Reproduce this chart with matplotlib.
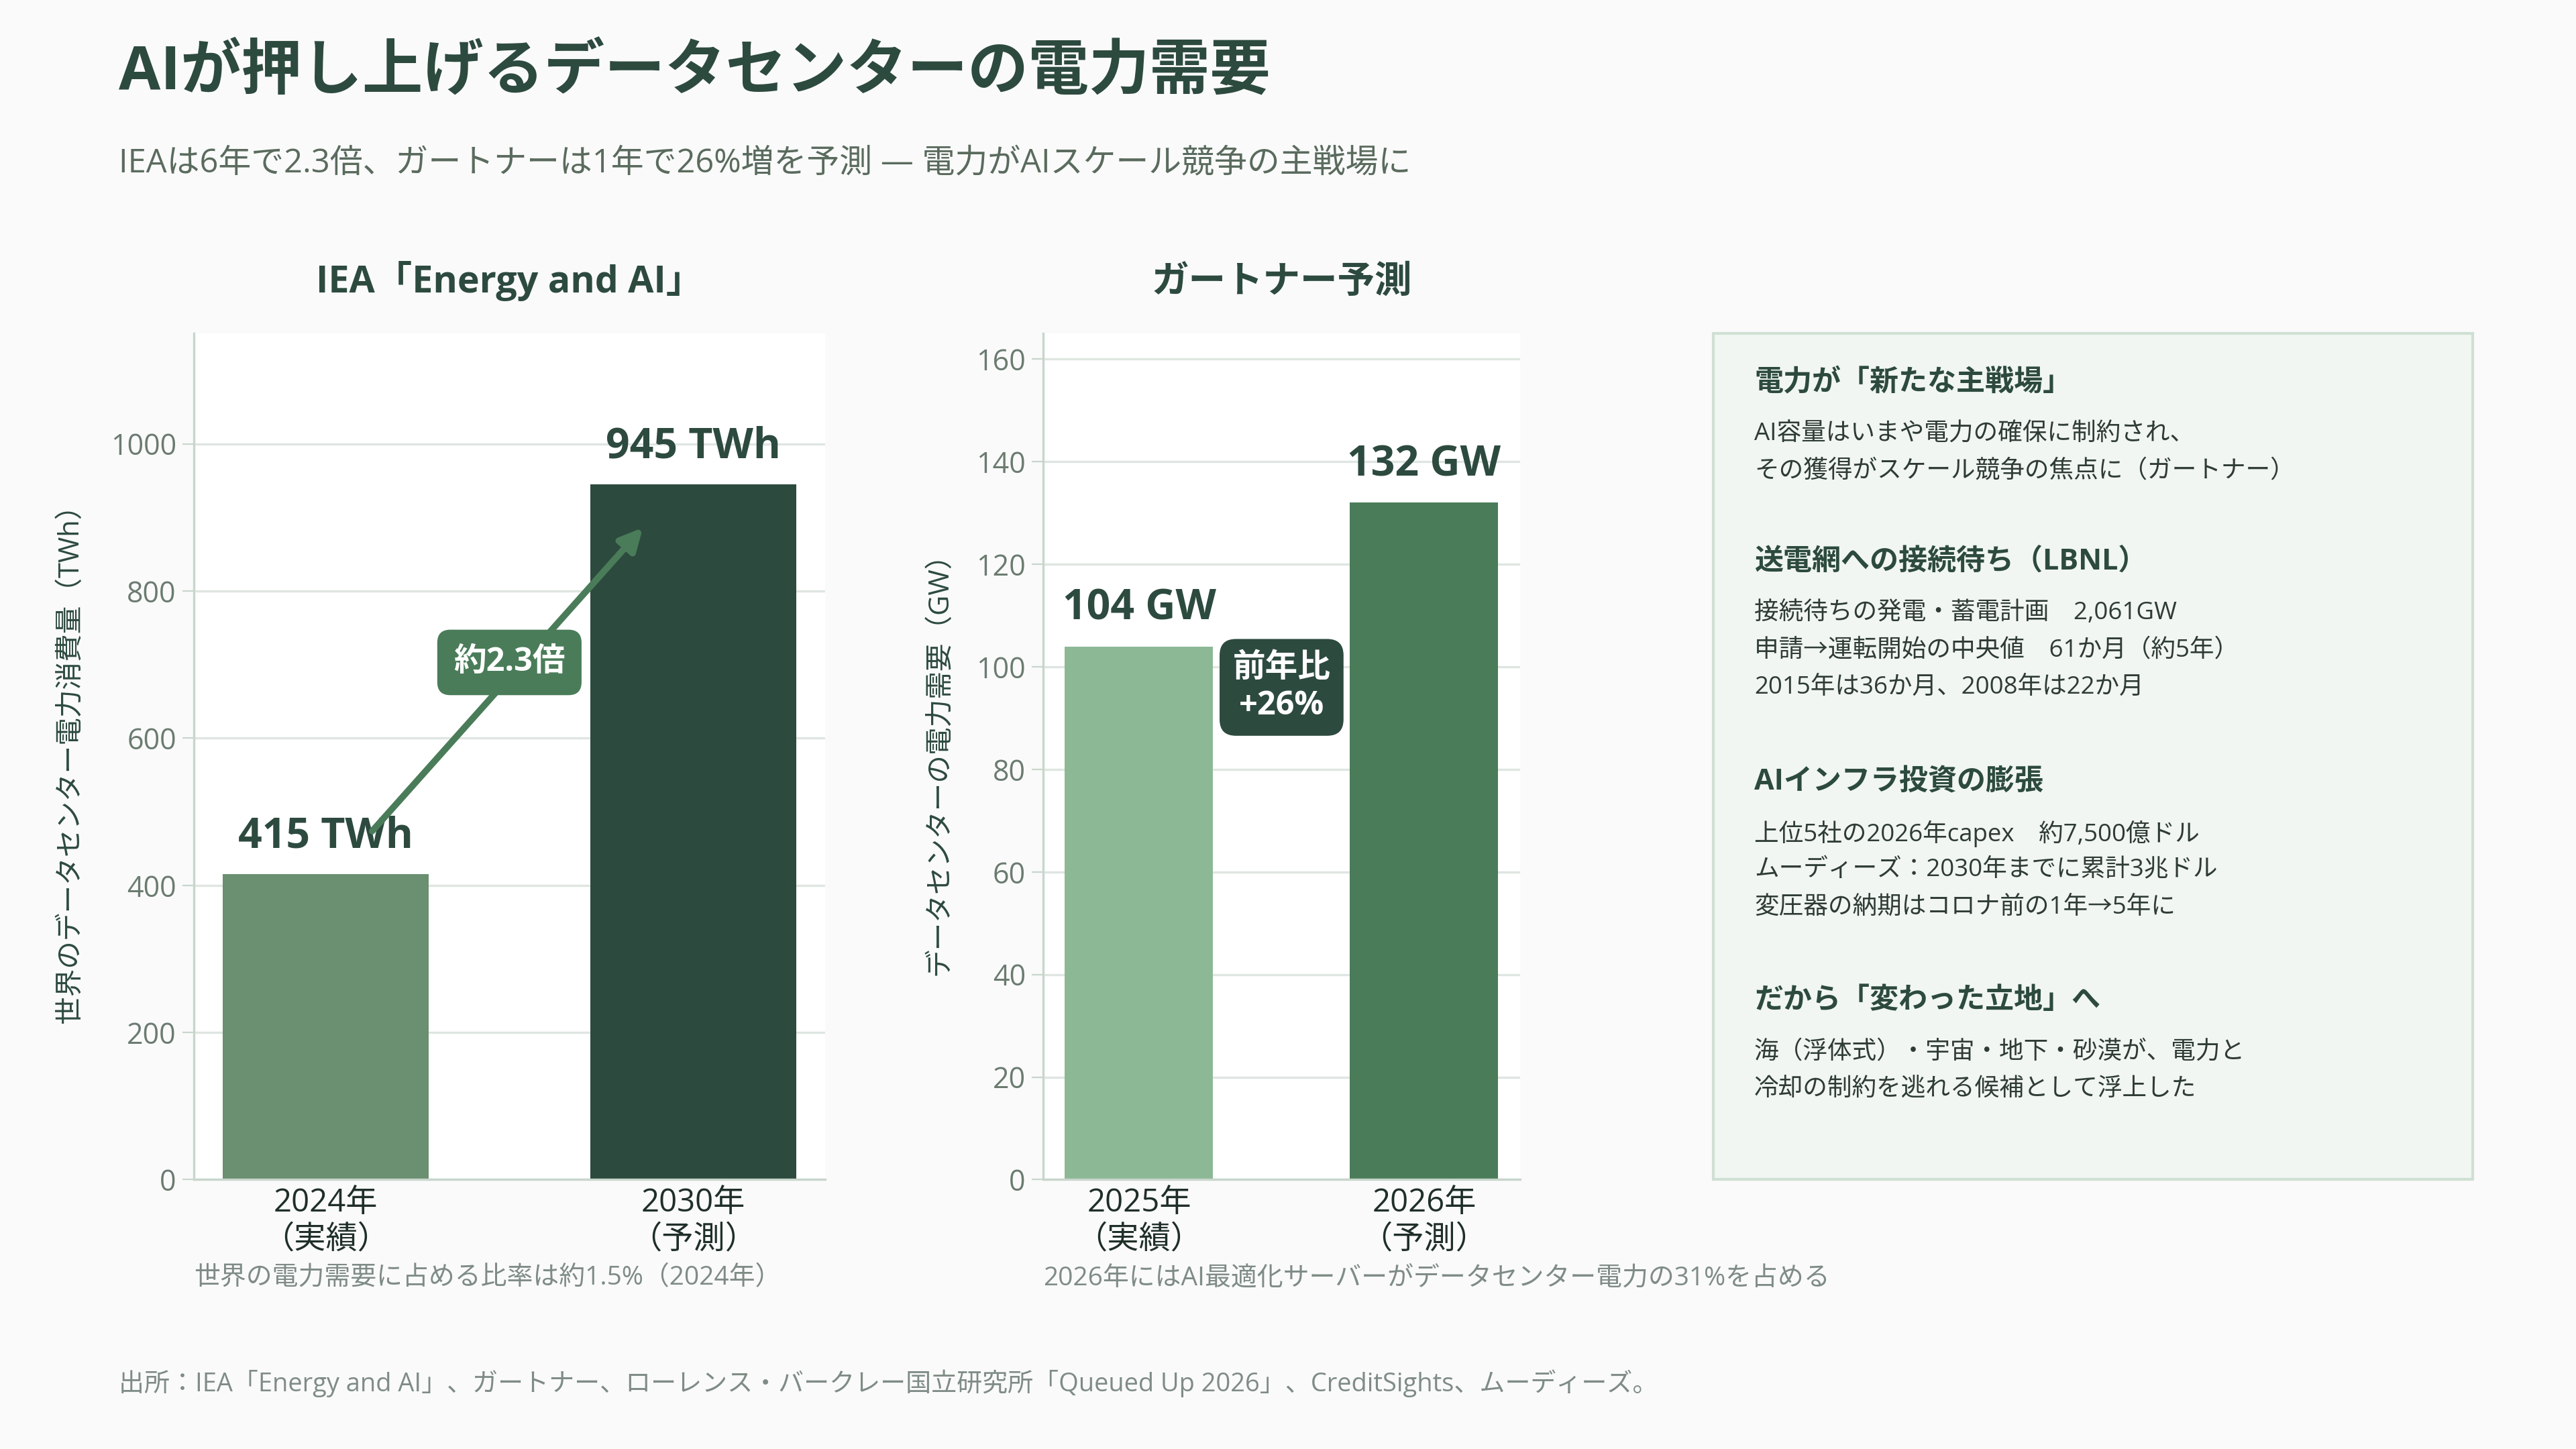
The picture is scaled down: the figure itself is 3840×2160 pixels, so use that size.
import matplotlib.pyplot as plt
from matplotlib.patches import FancyBboxPatch

plt.rcParams['font.family'] = ['Open Sans', 'Noto Sans CJK JP', 'DejaVu Sans']

# データ
iea_years = ["2024年\n（実績）", "2030年\n（予測）"]
iea_values = [415, 945]
iea_labels = ["415 TWh", "945 TWh"]
gartner_years = ["2025年\n（実績）", "2026年\n（予測）"]
gartner_values = [104, 132]
gartner_labels = ["104 GW", "132 GW"]

panel_sections = [
    ("電力が「新たな主戦場」",
     ["AI容量はいまや電力の確保に制約され、",
      "その獲得がスケール競争の焦点に（ガートナー）"]),
    ("送電網への接続待ち（LBNL）",
     ["接続待ちの発電・蓄電計画　2,061GW",
      "申請→運転開始の中央値　61か月（約5年）",
      "2015年は36か月、2008年は22か月"]),
    ("AIインフラ投資の膨張",
     ["上位5社の2026年capex　約7,500億ドル",
      "ムーディーズ：2030年までに累計3兆ドル",
      "変圧器の納期はコロナ前の1年→5年に"]),
    ("だから「変わった立地」へ",
     ["海（浮体式）・宇宙・地下・砂漠が、電力と",
      "冷却の制約を逃れる候補として浮上した"]),
]

DARK = "#2d4a3e"
MID = "#4a7c59"
GREY = "#6b7b70"
NOTE = "#7f8c85"
BG = "#fafafa"

fig = plt.figure(figsize=(19.2, 10.8), dpi=200, facecolor=BG)

# タイトル
fig.text(0.046, 0.949, "AIが押し上げるデータセンターの電力需要", fontsize=32.5,
         fontweight="bold", color=DARK, va="center")
fig.text(0.046, 0.887, "IEAは6年で2.3倍、ガートナーは1年で26%増を予測 — 電力がAIスケール競争の主戦場に",
         fontsize=17.6, color="#5a6b5e", va="center")


def style_axes(ax):
    ax.set_facecolor("white")
    for s in ["top", "right"]:
        ax.spines[s].set_visible(False)
    for s in ["left", "bottom"]:
        ax.spines[s].set_color("#c8d6cc")
        ax.spines[s].set_linewidth(1.2)
    ax.grid(axis="y", color="#dfe6e1", linewidth=1.2)
    ax.set_axisbelow(True)
    ax.tick_params(axis="y", colors="#c8d6cc", labelcolor=GREY, labelsize=15.5, length=6)
    ax.tick_params(axis="x", length=0, labelcolor="#1f2f28", labelsize=17, pad=4)


# 左：IEA
ax1 = fig.add_axes([0.0753, 0.1859, 0.2449, 0.5839])
style_axes(ax1)
ax1.bar([0, 1], iea_values, width=0.56, color=["#6b8f71", DARK])
ax1.set_ylim(0, 1150)
ax1.set_yticks(range(0, 1001, 200))
ax1.set_xticks([0, 1], iea_years)
for i, (v, lab) in enumerate(zip(iea_values, iea_labels)):
    ax1.annotate(lab, (i, v), xytext=(0, 9), textcoords="offset points",
                 ha="center", va="bottom", fontsize=22.5, fontweight="bold", color=DARK)
ax1.set_ylabel("世界のデータセンター電力消費量（TWh）", fontsize=15, color=DARK, labelpad=14)
ax1.set_title("IEA「Energy and AI」", fontsize=20, fontweight="bold", color=DARK, pad=22)
ax1.annotate("", xy=(0.87, 890), xytext=(0.12, 470),
             arrowprops=dict(arrowstyle="-|>", color=MID, lw=3.5, mutation_scale=25))
ax1.text(0.5, 703, "約2.3倍", ha="center", va="center", fontsize=17.5, fontweight="bold",
         color="white", zorder=5,
         bbox=dict(boxstyle="round,pad=0.5,rounding_size=0.4", fc=MID, ec="none"))

# 右：ガートナー
ax2 = fig.add_axes([0.405, 0.1859, 0.185, 0.5839])
style_axes(ax2)
ax2.bar([0, 1], gartner_values, width=0.52, color=["#8db896", MID])
ax2.set_ylim(0, 165)
ax2.set_yticks(range(0, 161, 20))
ax2.set_xticks([0, 1], gartner_years)
for i, (v, lab) in enumerate(zip(gartner_values, gartner_labels)):
    ax2.annotate(lab, (i, v), xytext=(0, 9), textcoords="offset points",
                 ha="center", va="bottom", fontsize=22.5, fontweight="bold", color=DARK)
ax2.set_ylabel("データセンターの電力需要（GW）", fontsize=15, color=DARK, labelpad=12)
ax2.set_title("ガートナー予測", fontsize=20, fontweight="bold", color=DARK, pad=22)
ax2.text(0.5, 96, "前年比\n+26%", ha="center", va="center", fontsize=17.5, fontweight="bold",
         color="white", zorder=5, linespacing=1.2,
         bbox=dict(boxstyle="round,pad=0.4,rounding_size=0.5", fc=DARK, ec="none"))

# 注記
fig.text(0.0753, 0.118, "世界の電力需要に占める比率は約1.5%（2024年）", fontsize=14,
         color=NOTE, va="center")
fig.text(0.405, 0.118, "2026年にはAI最適化サーバーがデータセンター電力の31%を占める", fontsize=14,
         color=NOTE, va="center")

# 右パネル
panel = FancyBboxPatch((0.6652, 0.1859), 0.2946, 0.5839, boxstyle="square,pad=0",
                       transform=fig.transFigure, fc="#f1f6f2", ec="#cfe0d3", lw=1.5)
fig.patches.append(panel)
head_y = [0.7358, 0.6122, 0.4603, 0.3095]
body_gap = 0.0355
line_gap = 0.0255
for (head, lines), y in zip(panel_sections, head_y):
    fig.text(0.681, y, head, fontsize=15.5, fontweight="bold", color=DARK, va="center")
    for j, line in enumerate(lines):
        fig.text(0.681, y - body_gap - j * line_gap, line, fontsize=13.2,
                 color="#2f3b35", va="center")

# 出所
fig.text(0.046, 0.0454,
         "出所：IEA「Energy and AI」、ガートナー、ローレンス・バークレー国立研究所「Queued Up 2026」、CreditSights、ムーディーズ。",
         fontsize=13.7, color=NOTE, va="center")

fig.savefig("out.png", dpi=200, facecolor=BG)
